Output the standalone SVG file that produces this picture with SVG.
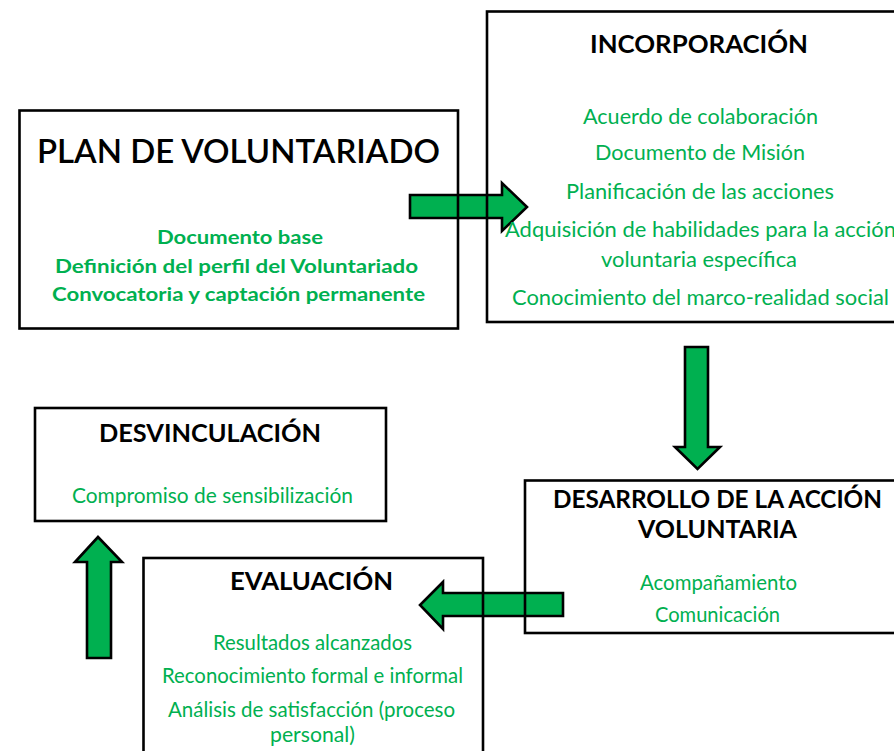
<svg xmlns="http://www.w3.org/2000/svg" width="894" height="751" viewBox="0 0 894 751">
<style>
.box{fill:none;stroke:#000;stroke-width:2.6}
.arr{fill:#00B050;stroke:#000;stroke-width:2.6;stroke-linejoin:miter}
text{font-family:Lato,"Liberation Sans",sans-serif;text-anchor:middle}
.t{fill:#000;font-weight:bold;font-size:24px}
.g{fill:#00B050;font-size:21px}
.gb{fill:#00B050;font-size:19px;font-weight:bold}
</style>
<rect width="894" height="751" fill="#fff"/>
<g id="connectors">
<polygon class="arr" points="410,195 502,195 502,183 527,207 502,231 502,218 410,218"/>
<polygon class="arr" points="685,347 708,347 708,447 720,447 697.5,469 675,447 685,447"/>
<polygon class="arr" points="563,593 443,593 443,582 420,605 443,629 443,616 563,616"/>
<polygon class="arr" points="87,658 87,562 75,562 98,537 122,562 111,562 111,658"/>
</g>
<g id="plan">
<rect class="box" x="19.5" y="110.5" width="438.5" height="218"/>
<text x="238.5" y="163" style="fill:#000;font-size:32px;font-weight:600" textLength="403" lengthAdjust="spacingAndGlyphs">PLAN DE VOLUNTARIADO</text>
<text class="gb" x="240" y="244" textLength="166" lengthAdjust="spacingAndGlyphs">Documento base</text>
<text class="gb" x="236.5" y="273" textLength="363" lengthAdjust="spacingAndGlyphs">Definición del perfil del Voluntariado</text>
<text class="gb" x="238.5" y="301" textLength="373" lengthAdjust="spacingAndGlyphs">Convocatoria y captación permanente</text>
</g>
<g id="incorporacion">
<rect class="box" x="487" y="11.5" width="420" height="310.5"/>
<text class="t" x="699" y="53" textLength="218" lengthAdjust="spacingAndGlyphs">INCORPORACIÓN</text>
<text class="g" x="700.5" y="124" textLength="235" lengthAdjust="spacingAndGlyphs">Acuerdo de colaboración</text>
<text class="g" x="700" y="160" textLength="210" lengthAdjust="spacingAndGlyphs">Documento de Misión</text>
<text class="g" x="700" y="199" textLength="268" lengthAdjust="spacingAndGlyphs">Planificación de las acciones</text>
<text class="g" x="700.5" y="237" textLength="391" lengthAdjust="spacingAndGlyphs">Adquisición de habilidades para la acción</text>
<text class="g" x="699" y="267" textLength="196" lengthAdjust="spacingAndGlyphs">voluntaria específica</text>
<text class="g" x="700.5" y="305" textLength="377" lengthAdjust="spacingAndGlyphs">Conocimiento del marco-realidad social</text>
</g>
<g id="desarrollo">
<rect class="box" x="525" y="480.5" width="380" height="152.5"/>
<text class="t" x="717.5" y="508" textLength="329" lengthAdjust="spacingAndGlyphs">DESARROLLO DE LA ACCIÓN</text>
<text class="t" x="717.5" y="538" textLength="159" lengthAdjust="spacingAndGlyphs">VOLUNTARIA</text>
<text class="g" x="718.5" y="590" textLength="157" lengthAdjust="spacingAndGlyphs">Acompañamiento</text>
<text class="g" x="717.5" y="622" textLength="125" lengthAdjust="spacingAndGlyphs">Comunicación</text>
</g>
<g id="desvinculacion">
<rect class="box" x="35" y="408" width="351" height="113"/>
<text class="t" x="210" y="442" textLength="222" lengthAdjust="spacingAndGlyphs">DESVINCULACIÓN</text>
<text class="g" x="212.5" y="503" textLength="281" lengthAdjust="spacingAndGlyphs">Compromiso de sensibilización</text>
</g>
<g id="evaluacion">
<rect class="box" x="143.5" y="558" width="339.5" height="210"/>
<text class="t" x="311.5" y="590" textLength="163" lengthAdjust="spacingAndGlyphs">EVALUACIÓN</text>
<text class="g" x="312.5" y="650" textLength="199" lengthAdjust="spacingAndGlyphs">Resultados alcanzados</text>
<text class="g" x="312.5" y="683" textLength="301" lengthAdjust="spacingAndGlyphs">Reconocimiento formal e informal</text>
<text class="g" x="311.5" y="717" textLength="287" lengthAdjust="spacingAndGlyphs">Análisis de satisfacción (proceso</text>
<text class="g" x="312.5" y="742" textLength="85" lengthAdjust="spacingAndGlyphs">personal)</text>
</g>
</svg>
